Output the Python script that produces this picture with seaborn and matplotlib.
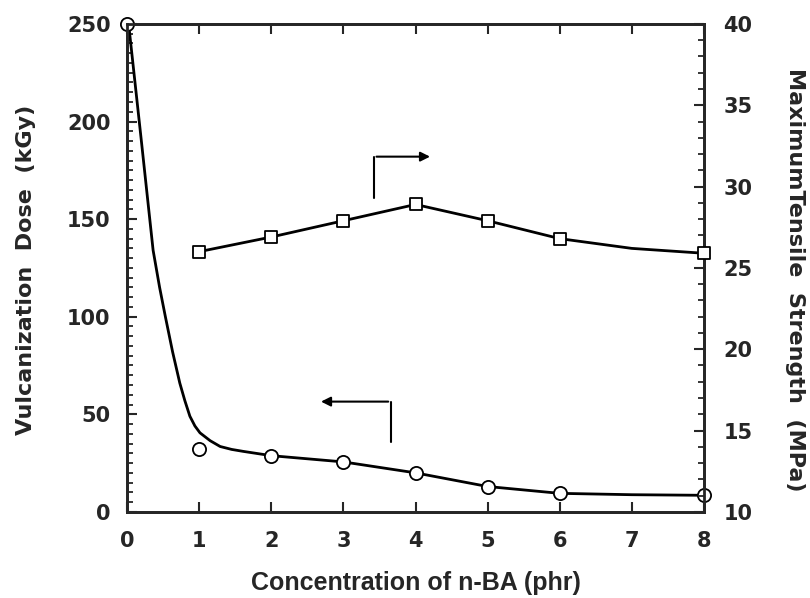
import matplotlib
matplotlib.use("Agg")
import matplotlib.pyplot as plt
import seaborn as sns
import numpy as np
import pandas as pd
from matplotlib.ticker import MultipleLocator

# measured points
conc = [0, 1, 2, 3, 4, 5, 6, 8]
dose = [250, 32, 28.8, 25.6, 20, 13, 9.5, 8.5]

conc_ts = [1, 2, 3, 4, 5, 6, 8]
tensile = [26.0, 26.9, 27.9, 28.9, 27.9, 26.8, 25.9]

# hand-drawn fit curves
dose_fit_x = [0.02, 0.2, 0.36, 0.45, 0.53, 0.63, 0.73, 0.8, 0.87, 0.94, 1.01, 1.15, 1.29,
              1.45, 1.61, 2, 3, 4, 5, 6, 7, 8]
dose_fit_y = [250, 189, 134, 115, 100, 82, 66, 57, 49, 44, 40.5, 36.5, 33.5,
              32, 31, 28.8, 25.6, 20, 13, 9.5, 8.8, 8.5]
ts_fit_x = [1, 2, 3, 4, 5, 6, 7, 8]
ts_fit_y = [26.0, 26.9, 27.9, 28.9, 27.9, 26.8, 26.2, 25.9]

sns.set_style("ticks")
plt.rcParams['font.family'] = ['DejaVu Sans']
plt.rcParams['font.weight'] = 'bold'

fig = plt.figure(figsize=(8.1, 5.98), dpi=100)
ax = fig.add_axes([0.157, 0.144, 0.712, 0.816])
ax2 = ax.twinx()

dose_df = pd.DataFrame({"x": conc, "y": dose})
fit_df = pd.DataFrame({"x": dose_fit_x, "y": dose_fit_y})
ts_df = pd.DataFrame({"x": conc_ts, "y": tensile})
tsfit_df = pd.DataFrame({"x": ts_fit_x, "y": ts_fit_y})

sns.lineplot(data=fit_df, x="x", y="y", ax=ax, color="black", lw=2, sort=False)
sns.scatterplot(data=dose_df, x="x", y="y", ax=ax, marker="o", s=90,
                facecolor="white", edgecolor="black", linewidth=1.3, zorder=5, clip_on=False)
sns.lineplot(data=tsfit_df, x="x", y="y", ax=ax2, color="black", lw=2)
sns.scatterplot(data=ts_df, x="x", y="y", ax=ax2, marker="s", s=80,
                facecolor="white", edgecolor="black", linewidth=1.3, zorder=5, clip_on=False)

ax.set_xlim(0, 8)
ax.set_ylim(0, 250)
ax2.set_ylim(10, 40)

ax.xaxis.set_major_locator(MultipleLocator(1))
ax.yaxis.set_major_locator(MultipleLocator(50))
ax.yaxis.set_minor_locator(MultipleLocator(5))
ax2.yaxis.set_major_locator(MultipleLocator(5))
ax2.yaxis.set_minor_locator(MultipleLocator(1))

ax.tick_params(axis="x", direction="in", top=True, length=7, width=1.5, labelsize=15, pad=14)
ax.tick_params(axis="y", which="major", direction="in", length=7, width=1.5, labelsize=15, pad=12)
ax.tick_params(axis="y", which="minor", direction="in", length=4, width=1.3)
ax2.tick_params(axis="y", which="major", direction="in", length=7, width=1.5, labelsize=15, pad=14)
ax2.tick_params(axis="y", which="minor", direction="in", length=4, width=1.3)

for a in (ax, ax2):
    for sp in a.spines.values():
        sp.set_linewidth(2)
        sp.set_visible(True)

ax.set_xlabel("Concentration of n-BA (phr)", fontsize=18, fontweight="bold",
              family="Liberation Sans", labelpad=14)
ax.set_ylabel("Vulcanization  Dose  (kGy)", fontsize=16, fontweight="bold", labelpad=22)
ax2.set_ylabel("MaximumTensile  Strength  (MPa)", fontsize=16, fontweight="bold",
               rotation=-90, labelpad=38)
ax.yaxis.label.set_y(0.495)
ax2.yaxis.label.set_y(0.475)

# pointer arrows
ax.plot([3.42, 3.42], [161, 182], color="black", lw=1.5)
ax.annotate("", xy=(4.24, 182), xytext=(3.42, 182),
            arrowprops=dict(arrowstyle="-|>", color="black", lw=1.5, mutation_scale=14))
ax.plot([3.66, 3.66], [36, 56.5], color="black", lw=1.5)
ax.annotate("", xy=(2.65, 56.5), xytext=(3.66, 56.5),
            arrowprops=dict(arrowstyle="-|>", color="black", lw=1.5, mutation_scale=14))

fig.savefig("out.png", dpi=100)
